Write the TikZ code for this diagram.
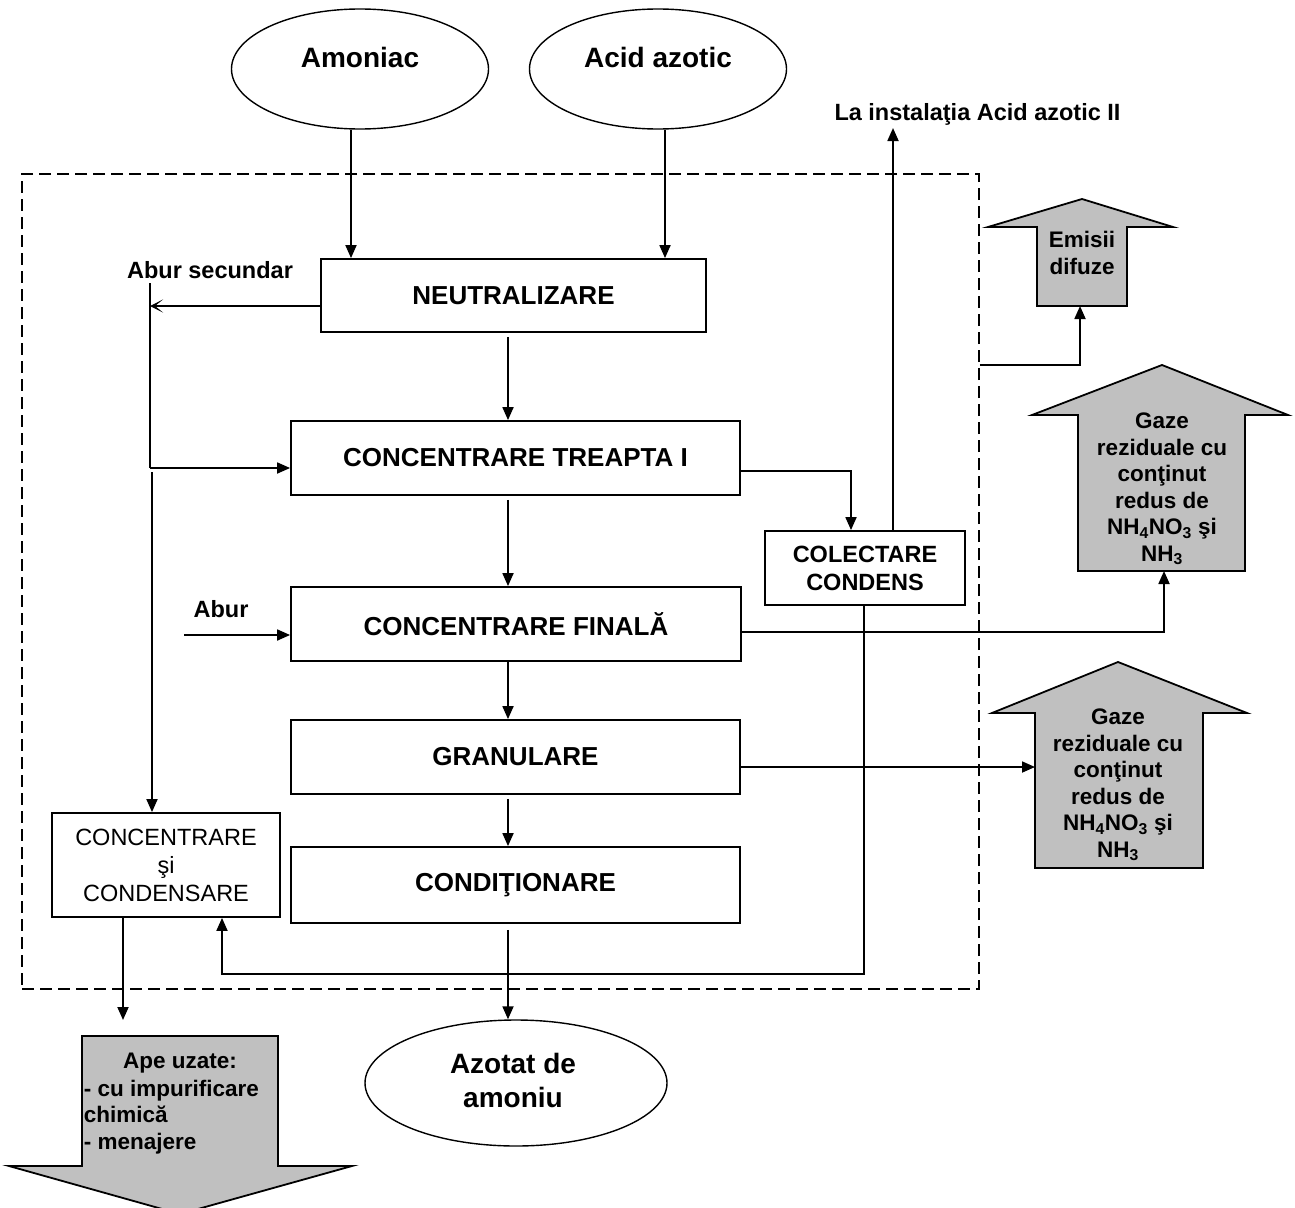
\documentclass[tikz,border=0pt]{standalone}
\usepackage{fontspec}
\setmainfont{Liberation Sans}
\usetikzlibrary{arrows.meta,shapes.geometric}
\definecolor{arrowgray}{HTML}{C0C0C0}
\begin{document}
\begin{tikzpicture}[x=1pt,y=-1pt,line width=1.8pt,
  tri/.style={-{Triangle[length=13pt,width=11pt]}},
  stl/.style={-{Stealth[length=13pt,width=13pt,inset=8pt]}},
  box/.style={draw,line width=1.8pt,inner sep=0pt,align=center,
    font=\fontsize{26}{30}\selectfont\bfseries},
  ell/.style={draw,ellipse,line width=1.4pt,inner sep=0pt},
  etext/.style={font=\fontsize{28}{34}\selectfont\bfseries,align=center,inner sep=0pt},
  lbl/.style={font=\fontsize{22.5}{26.5}\selectfont\bfseries,align=center,inner sep=0pt},
  lblb/.style={font=\fontsize{23.5}{27}\selectfont\bfseries,align=center,inner sep=0pt},
  blk/.style={draw,fill=arrowgray,line width=1.8pt,line join=miter},
  frame/.style={draw,dash pattern=on 12pt off 6pt,line width=1.6pt,inner sep=0pt}
]
\useasboundingbox (0,0) rectangle (1295,1207);

% frame
\node[frame,minimum width=957,minimum height=815] (frame) at (500.5,581.5) {};

% ellipses
\node[ell,minimum width=257,minimum height=120] (amon) at (360,69) {};
\node[etext] (amonT) at (360,57) {Amoniac};
\node[ell,minimum width=257,minimum height=120] (acid) at (658,69) {};
\node[etext] (acidT) at (658,57) {Acid azotic};
\node[ell,minimum width=302,minimum height=126] (azot) at (516,1083) {};
\node[etext] (azotT) at (513,1080) {Azotat de\\amoniu};

% process boxes
\node[box,minimum width=385,minimum height=73] (neu) at (513.5,295.5) {NEUTRALIZARE};
\node[box,minimum width=449,minimum height=74] (cc1) at (515.5,458) {CONCENTRARE TREAPTA I};
\node[box,minimum width=450,minimum height=74] (cfin) at (516,624) {CONCENTRARE FINALĂ};
\node[box,minimum width=449,minimum height=74] (gran) at (515.5,757) {GRANULARE};
\node[box,minimum width=449,minimum height=76] (cond) at (515.5,885) {CONDIŢIONARE};
\node[box,minimum width=200,minimum height=74,font=\fontsize{23.5}{28}\selectfont\bfseries] (col) at (865,568) {COLECTARE\\CONDENS};
\node[box,minimum width=228,minimum height=104,font=\fontsize{23.5}{28}\selectfont] (ccc) at (166,865) {CONCENTRARE\\şi\\CONDENSARE};

% labels
\node[lblb] (abs) at (210,270) {Abur secundar};
\node[lblb] (abur) at (221,609) {Abur};
\node[lblb] (lat) at (977.5,114) {La instalaţia Acid azotic II};

% block arrows
\draw[blk] (1082,199) -- (1173,227) -- (1127,227) -- (1127,306) -- (1037,306) -- (1037,227) -- (988,227) -- cycle;
\node[lbl] (emT) at (1082,253) {Emisii\\difuze};
\draw[blk] (1162,365) -- (1288,415) -- (1245,415) -- (1245,571) -- (1078,571) -- (1078,415) -- (1032,415) -- cycle;
\node[lbl] (g1T) at (1162,489) {Gaze\\reziduale cu\\conţinut\\redus de\\NH\textsubscript{4}NO\textsubscript{3} şi\\NH\textsubscript{3}};
\draw[blk] (1118,662) -- (1247,713) -- (1203,713) -- (1203,868) -- (1035,868) -- (1035,713) -- (992,713) -- cycle;
\node[lbl] (g2T) at (1118,785) {Gaze\\reziduale cu\\conţinut\\redus de\\NH\textsubscript{4}NO\textsubscript{3} şi\\NH\textsubscript{3}};
\begin{scope}
\clip (0,0) rectangle (1295,1207);
\draw[blk] (82,1036) -- (278,1036) -- (278,1166) -- (352,1166) -- (180,1214) -- (9,1166) -- (82,1166) -- cycle;
\end{scope}
\node[lbl] (apeT1) at (180,1063) {Ape uzate:};
\node[lbl,anchor=west,align=left] (apeT2) at (83,1117) {- cu impurificare\\chimică\\- menajere};

% helper coordinates
\coordinate (xA) at (351,0);
\coordinate (xB) at (665,0);
\coordinate (xM) at (508,0);
\coordinate (xL) at (150,0);
\coordinate (xL2) at (152,0);
\coordinate (xU) at (893,0);
\coordinate (xR) at (864,0);
\coordinate (xC) at (851,0);
\coordinate (xRet) at (222,0);
\coordinate (xW) at (123,0);
\coordinate (yN) at (0,306);
\coordinate (yC1) at (0,468);
\coordinate (yC1r) at (0,471);
\coordinate (yF) at (0,632);
\coordinate (yG) at (0,767);
\coordinate (yE) at (0,365);
\coordinate (absTop) at (150,283);
\coordinate (absBend) at (150,468);
\coordinate (lowStart) at (152,472);
\coordinate (aburS) at (184,635);
\coordinate (g1b) at (1164,571);
\coordinate (g1c) at (1164,632);
\coordinate (g2w) at (1035,767);
\coordinate (emB) at (1080,306);
\coordinate (emC) at (1080,365);
\coordinate (c1c) at (851,471);
\coordinate (retA) at (864,974);
\coordinate (retB) at (222,974);
\coordinate (apeTip) at (123,1020);
\coordinate (latB) at (893,128);

% connectors
\draw[tri] (amon.south -| xA) -- (neu.north -| xA);
\draw[tri] (acid.south -| xB) -- (neu.north -| xB);
\draw[stl] (neu.west |- yN) -- (xL |- yN);
\draw (absTop) -- (absBend);
\draw[tri] (absBend) -- (cc1.west |- yC1);
\draw[tri] (lowStart) -- (ccc.north -| xL2);
\draw[tri,shorten <=4pt] (neu.south -| xM) -- (cc1.north -| xM);
\draw[tri,shorten <=4pt] (cc1.south -| xM) -- (cfin.north -| xM);
\draw[tri] (cfin.south -| xM) -- (gran.north -| xM);
\draw[tri,shorten <=4pt] (gran.south -| xM) -- (cond.north -| xM);
\draw[tri,shorten <=6pt] (cond.south -| xM) -- (azot.north -| xM);
\draw[tri] (cc1.east |- yC1r) -- (c1c) -- (col.north -| xC);
\draw[tri] (col.north -| xU) -- (latB);
\draw[tri] (aburS) -- (cfin.west |- aburS);
\draw[tri] (cfin.east |- yF) -- (g1c) -- (g1b);
\draw[tri] (gran.east |- yG) -- (g2w);
\draw[tri] (col.south -| xR) -- (retA) -- (retB) -- (ccc.south -| xRet);
\draw[tri] (ccc.south -| xW) -- (apeTip);
\draw[tri] (frame.east |- yE) -- (emC) -- (emB);
\end{tikzpicture}
\end{document}
